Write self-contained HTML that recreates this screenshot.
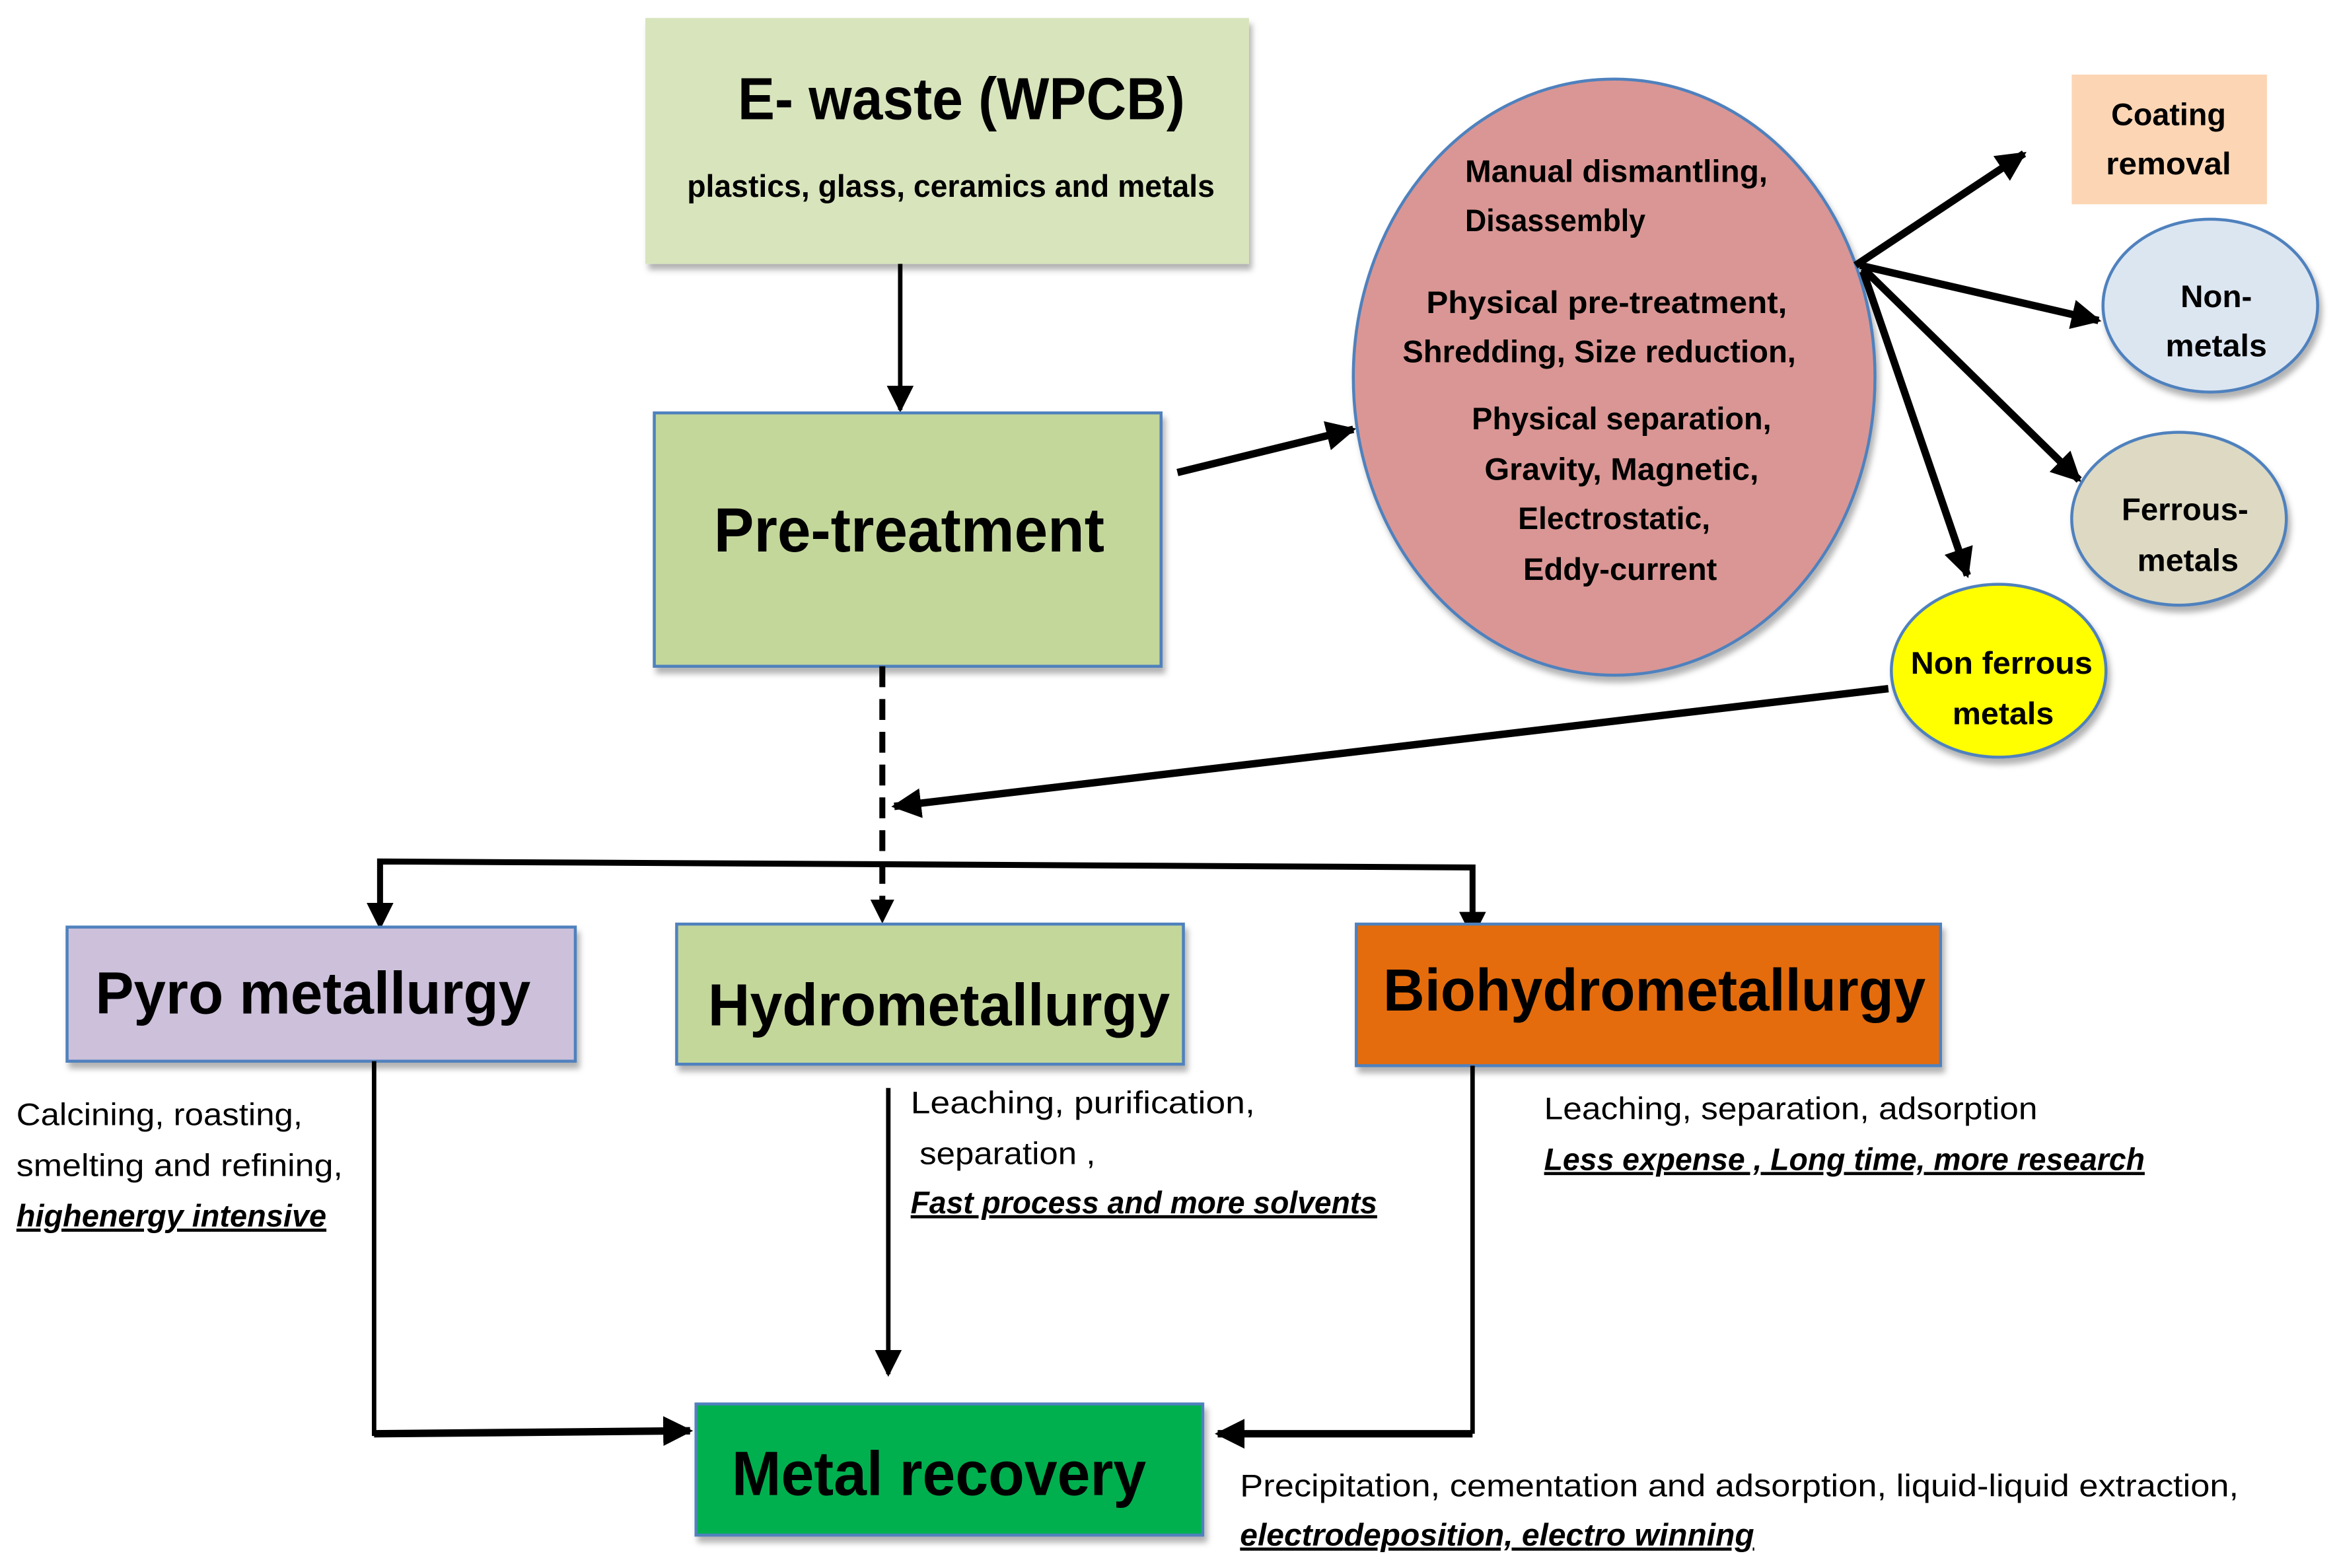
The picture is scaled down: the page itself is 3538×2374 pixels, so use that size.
<!DOCTYPE html>
<html><head><meta charset="utf-8"><style>
html,body{margin:0;padding:0;background:#fff;}
svg{display:block;}
text{font-family:"Liberation Sans",sans-serif;fill:#000;}
.b{font-weight:bold;}
</style></head><body>
<svg width="3538" height="2374" viewBox="0 0 1568 1052" xmlns="http://www.w3.org/2000/svg">
<defs>
<marker id="a" viewBox="0 0 10 10" refX="9" refY="5" markerWidth="4" markerHeight="4" orient="auto" markerUnits="strokeWidth"><path d="M0,0 L10,5 L0,10 z" fill="#000"/></marker>
<marker id="s" viewBox="0 0 10 10" refX="9" refY="5" markerWidth="6" markerHeight="6" orient="auto" markerUnits="strokeWidth"><path d="M0,0 L10,5 L0,10 z" fill="#000"/></marker>
<filter id="sh" x="-5%" y="-5%" width="115%" height="120%"><feDropShadow dx="2" dy="4" stdDeviation="2" flood-color="#000" flood-opacity="0.3"/></filter>
</defs>

<rect x="433" y="12" width="405" height="165" fill="#d8e4bc" filter="url(#sh)"/>
<text x="645" y="80" text-anchor="middle" class="b" font-size="40" textLength="300" lengthAdjust="spacingAndGlyphs">E- waste (WPCB)</text>
<text x="638" y="132" text-anchor="middle" class="b" font-size="21" textLength="354" lengthAdjust="spacingAndGlyphs">plastics,  glass,  ceramics and metals</text>
<line x1="604" y1="177" x2="604" y2="275" stroke="#000" stroke-width="3" marker-end="url(#s)"/>

<rect x="439" y="277" width="340" height="170" fill="#c4d79b" stroke="#4f81bd" stroke-width="2" filter="url(#sh)"/>
<text x="610" y="370" text-anchor="middle" class="b" font-size="42" textLength="262" lengthAdjust="spacingAndGlyphs">Pre-treatment</text>
<line x1="790" y1="317" x2="908" y2="288" stroke="#000" stroke-width="5" marker-end="url(#a)"/>

<ellipse cx="1083" cy="253" rx="175" ry="200" fill="#da9694" stroke="#4f81bd" stroke-width="2" filter="url(#sh)"/>
<g class="b" font-size="21">
<text x="983" y="122" textLength="203" lengthAdjust="spacingAndGlyphs">Manual dismantling,</text>
<text x="983" y="155" textLength="121" lengthAdjust="spacingAndGlyphs">Disassembly</text>
<text x="1078" y="210" text-anchor="middle" textLength="242" lengthAdjust="spacingAndGlyphs">Physical  pre-treatment,</text>
<text x="1073" y="243" text-anchor="middle" textLength="264" lengthAdjust="spacingAndGlyphs">Shredding, Size reduction,</text>
<text x="1088" y="288" text-anchor="middle" textLength="201" lengthAdjust="spacingAndGlyphs">Physical  separation,</text>
<text x="1088" y="322" text-anchor="middle" textLength="184" lengthAdjust="spacingAndGlyphs">Gravity, Magnetic,</text>
<text x="1083" y="355" text-anchor="middle" textLength="129" lengthAdjust="spacingAndGlyphs">Electrostatic,</text>
<text x="1087" y="389" text-anchor="middle" textLength="130" lengthAdjust="spacingAndGlyphs">Eddy-current</text>
</g>
<g stroke="#000" stroke-width="5" fill="none">
<line x1="1245" y1="178" x2="1358" y2="103" marker-end="url(#a)"/>
<line x1="1248" y1="178" x2="1408" y2="215" marker-end="url(#a)"/>
<line x1="1250" y1="180" x2="1395" y2="322" marker-end="url(#a)"/>
<line x1="1250" y1="182" x2="1320" y2="386" marker-end="url(#a)"/>
</g>

<rect x="1390" y="50" width="131" height="87" fill="#fcd5b4"/>
<text x="1455" y="84" text-anchor="middle" class="b" font-size="21" textLength="77" lengthAdjust="spacingAndGlyphs">Coating</text>
<text x="1455" y="117" text-anchor="middle" class="b" font-size="21" textLength="84" lengthAdjust="spacingAndGlyphs">removal</text>

<ellipse cx="1483" cy="205" rx="72" ry="58" fill="#dce6f1" stroke="#4f81bd" stroke-width="2" filter="url(#sh)"/>
<text x="1487" y="206" text-anchor="middle" class="b" font-size="21" textLength="48" lengthAdjust="spacingAndGlyphs">Non-</text>
<text x="1487" y="239" text-anchor="middle" class="b" font-size="21" textLength="68" lengthAdjust="spacingAndGlyphs">metals</text>

<ellipse cx="1462" cy="348" rx="72" ry="58" fill="#ddd9c3" stroke="#4f81bd" stroke-width="2" filter="url(#sh)"/>
<text x="1466" y="349" text-anchor="middle" class="b" font-size="21" textLength="85" lengthAdjust="spacingAndGlyphs">Ferrous-</text>
<text x="1468" y="383" text-anchor="middle" class="b" font-size="21" textLength="68" lengthAdjust="spacingAndGlyphs">metals</text>

<ellipse cx="1341" cy="450" rx="72" ry="58" fill="#ffff00" stroke="#4f81bd" stroke-width="2" filter="url(#sh)"/>
<text x="1343" y="452" text-anchor="middle" class="b" font-size="21" textLength="122" lengthAdjust="spacingAndGlyphs">Non ferrous</text>
<text x="1344" y="486" text-anchor="middle" class="b" font-size="21" textLength="68" lengthAdjust="spacingAndGlyphs">metals</text>

<line x1="1267" y1="462" x2="600" y2="541" stroke="#000" stroke-width="5" marker-end="url(#a)"/>

<line x1="592" y1="447" x2="592" y2="618" stroke="#000" stroke-width="4" stroke-dasharray="14,8" marker-end="url(#a)"/>
<polyline points="255,620 255,578 988,582 988,626" fill="none" stroke="#000" stroke-width="4"/>
<line x1="255" y1="590" x2="255" y2="622" stroke="#000" stroke-width="3" marker-end="url(#s)"/>
<line x1="988" y1="595" x2="988" y2="628" stroke="#000" stroke-width="3" marker-end="url(#s)"/>

<rect x="45" y="622" width="341" height="90" fill="#ccc0da" stroke="#4f81bd" stroke-width="2" filter="url(#sh)"/>
<text x="210" y="680" text-anchor="middle" class="b" font-size="40" textLength="292" lengthAdjust="spacingAndGlyphs">Pyro metallurgy</text>
<rect x="454" y="620" width="340" height="94" fill="#c4d79b" stroke="#4f81bd" stroke-width="2" filter="url(#sh)"/>
<text x="630" y="688" text-anchor="middle" class="b" font-size="40" textLength="310" lengthAdjust="spacingAndGlyphs">Hydrometallurgy</text>
<rect x="910" y="620" width="392" height="95" fill="#e46c0a" stroke="#4f81bd" stroke-width="2" filter="url(#sh)"/>
<text x="1110" y="678" text-anchor="middle" class="b" font-size="40" textLength="364" lengthAdjust="spacingAndGlyphs">Biohydrometallurgy</text>

<g font-size="21">
<text x="11" y="755" textLength="192" lengthAdjust="spacingAndGlyphs">Calcining, roasting,</text>
<text x="11" y="789" textLength="219" lengthAdjust="spacingAndGlyphs">smelting and refining,</text>
<text x="11" y="823" class="b" font-style="italic" text-decoration="underline" textLength="208" lengthAdjust="spacingAndGlyphs">highenergy intensive</text>
<text x="611" y="747" textLength="231" lengthAdjust="spacingAndGlyphs">Leaching,  purification,</text>
<text x="617" y="781" textLength="118" lengthAdjust="spacingAndGlyphs">separation ,</text>
<text x="611" y="814" class="b" font-style="italic" text-decoration="underline" textLength="313" lengthAdjust="spacingAndGlyphs">Fast process and more solvents</text>
<text x="1036" y="751" textLength="331" lengthAdjust="spacingAndGlyphs">Leaching, separation, adsorption</text>
<text x="1036" y="785" class="b" font-style="italic" text-decoration="underline" textLength="403" lengthAdjust="spacingAndGlyphs">Less expense  , Long time,  more research</text>
<text x="832" y="1004" textLength="670" lengthAdjust="spacingAndGlyphs">Precipitation, cementation and adsorption, liquid-liquid extraction,</text>
<text x="832" y="1037" class="b" font-style="italic" text-decoration="underline" textLength="345" lengthAdjust="spacingAndGlyphs">electrodeposition,  electro winning</text>
</g>

<polyline points="251,712 251,962 440,961" fill="none" stroke="#000" stroke-width="3"/>
<line x1="251" y1="962" x2="463" y2="960" stroke="#000" stroke-width="5" marker-end="url(#a)"/>
<line x1="596" y1="730" x2="596" y2="922" stroke="#000" stroke-width="3" marker-end="url(#s)"/>
<polyline points="988,715 988,962" fill="none" stroke="#000" stroke-width="3"/>
<line x1="988" y1="962" x2="817" y2="962" stroke="#000" stroke-width="5" marker-end="url(#a)"/>

<rect x="467" y="942" width="340" height="88" fill="#00b050" stroke="#4f81bd" stroke-width="2" filter="url(#sh)"/>
<text x="630" y="1003" text-anchor="middle" class="b" font-size="42" textLength="278" lengthAdjust="spacingAndGlyphs">Metal recovery</text>
</svg>
</body></html>
